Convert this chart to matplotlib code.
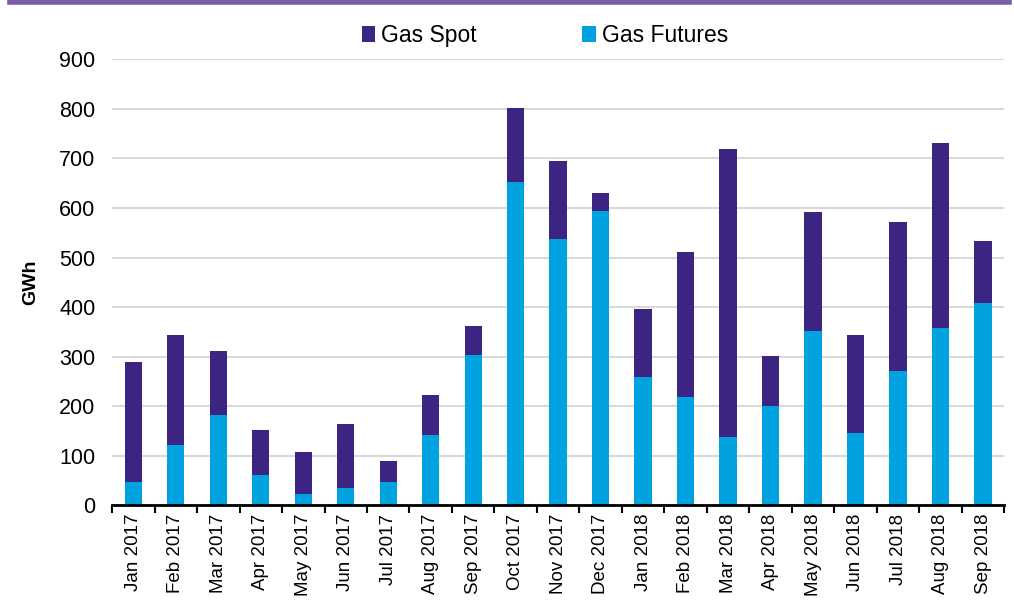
import numpy as np
import matplotlib.pyplot as plt

plt.rcParams['font.family'] = ['Liberation Sans', 'DejaVu Sans']

months = ["Jan 2017", "Feb 2017", "Mar 2017", "Apr 2017", "May 2017", "Jun 2017",
          "Jul 2017", "Aug 2017", "Sep 2017", "Oct 2017", "Nov 2017", "Dec 2017",
          "Jan 2018", "Feb 2018", "Mar 2018", "Apr 2018", "May 2018", "Jun 2018",
          "Jul 2018", "Aug 2018", "Sep 2018"]
futures = [47, 121, 182, 60, 22, 35, 47, 141, 304, 652, 537, 593,
           258, 218, 138, 201, 351, 145, 271, 358, 408]
totals = [290, 343, 312, 152, 108, 163, 90, 222, 362, 802, 695, 630,
          396, 511, 720, 302, 592, 344, 571, 732, 533]
spot = [t - f for t, f in zip(totals, futures)]

spot_color = "#3c2482"
fut_color = "#00a3e0"

fig = plt.figure(figsize=(10.14, 6.0), dpi=100)
ax = fig.add_axes([0.1105, 0.158, 0.880, 0.743])

x = np.arange(len(months))
ax.bar(x, futures, width=0.41, color=fut_color, label="Gas Futures", zorder=3)
ax.bar(x, spot, width=0.41, bottom=futures, color=spot_color, label="Gas Spot", zorder=3)

ax.set_xlim(-0.5, len(months) - 0.5)
ax.set_ylim(0, 900)
ax.set_yticks(np.arange(0, 901, 100))
ax.tick_params(axis='y', length=0, labelsize=15.5, pad=12)
ax.yaxis.grid(True, color="#d9d9d9", linewidth=1.5, zorder=0)

ax.set_xticks(x)
ax.set_xticklabels(months, rotation=90, fontsize=13.5)
ax.set_xticks(np.arange(-0.5, len(months), 1), minor=True)
ax.tick_params(axis='x', which='major', length=0, pad=6)
ax.tick_params(axis='x', which='minor', length=6, width=1.5, direction='out')

for s in ["top", "right", "left"]:
    ax.spines[s].set_visible(False)
ax.spines["bottom"].set_linewidth(2)
ax.spines["bottom"].set_zorder(4)

ax.set_ylabel("GWh", fontsize=14, fontweight="bold", labelpad=14)

handles, labels = ax.get_legend_handles_labels()
ax.legend(handles[::-1], labels[::-1], loc="upper center", bbox_to_anchor=(0.485, 1.125),
          ncol=2, frameon=False, fontsize=16.5, handlelength=0.6, handleheight=0.7,
          handletextpad=0.25, columnspacing=4.6)

# purple rule along the top
fig.add_artist(plt.Line2D([0.01, 0.995], [0.997, 0.997], color="#7a5ca8",
                          linewidth=4, transform=fig.transFigure))

fig.savefig("out.png", dpi=100)
